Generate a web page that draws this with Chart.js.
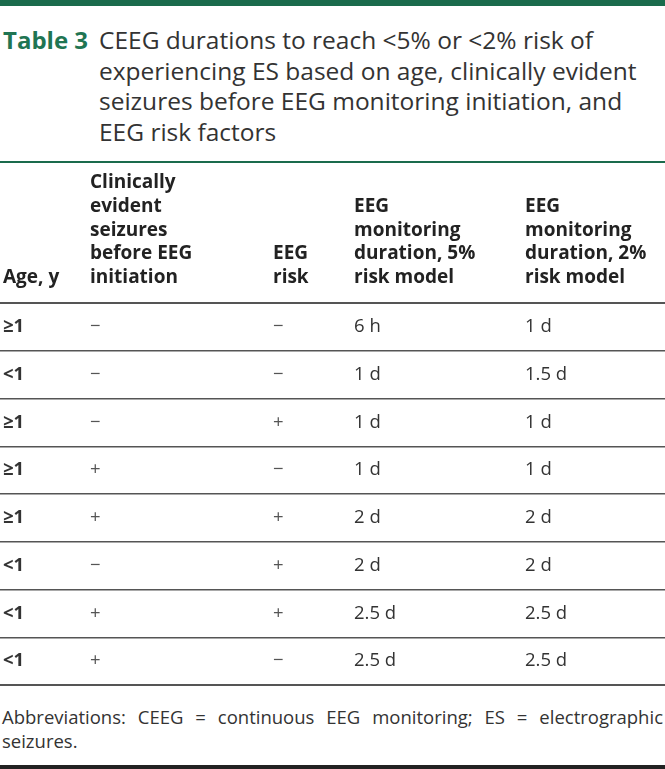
<!DOCTYPE html>
<html>
<head>
<meta charset="utf-8">
<script src="https://cdn.jsdelivr.net/npm/chart.js@4.4.1/dist/chart.umd.min.js"></script>
<style>
  html, body { margin: 0; padding: 0; background: #ffffff; }
  body { width: 665px; height: 769px; position: relative; overflow: hidden; font-family: "Open Sans", "Noto Sans", sans-serif; }
  #topbar { position: absolute; left: 0; top: 0; width: 665px; height: 6px; background: #1a6b4c; }
  #tno { position: absolute; left: 3px; top: 25px; font-size: 24px; line-height: 30.5px; font-weight: 700; color: #1f7553; white-space: nowrap; }
  #ttext { position: absolute; left: 99px; top: 25px; font-size: 24.5px; line-height: 30.5px; color: #333333; white-space: nowrap; }
  #tline { position: absolute; left: 0; top: 161px; width: 665px; height: 2px; background: #1a6b4c; }
  #wrap { position: absolute; left: 0; top: 163px; width: 665px; height: 524px; }
  #foot1 { position: absolute; left: 2px; top: 705px; width: 661px; font-size: 18.5px; line-height: 24px; color: #333333; text-align: justify; text-align-last: justify; white-space: nowrap; }
  #foot2 { position: absolute; left: 2px; top: 729px; width: 661px; font-size: 18.5px; line-height: 24px; color: #333333; }
  #botbar { position: absolute; left: 0; top: 765px; width: 665px; height: 4px; background: #222222; }
</style>
</head>
<body>
<div id="topbar"></div>
<div id="tno">Table 3</div>
<div id="ttext">CEEG durations to reach &lt;5% or &lt;2% risk of<br>experiencing ES based on age, clinically evident<br>seizures before EEG monitoring initiation, and<br>EEG risk factors</div>
<div id="tline"></div>
<div id="wrap"><canvas id="c"></canvas></div>
<div id="foot1">Abbreviations: CEEG = continuous EEG monitoring; ES = electrographic</div>
<div id="foot2">seizures.</div>
<div id="botbar"></div>
<script>
// ---- data ----
const headers = [
  ["Age, y"],
  ["Clinically", "evident", "seizures", "before EEG", "initiation"],
  ["EEG", "risk"],
  ["EEG", "monitoring", "duration, 5%", "risk model"],
  ["EEG", "monitoring", "duration, 2%", "risk model"]
];
const ageGroup     = ["≥1", "<1", "≥1", "≥1", "≥1", "<1", "<1", "<1"];
const clinSeizures = ["−", "−", "−", "+", "+", "−", "+", "+"];
const eegRisk      = ["−", "−", "+", "−", "+", "+", "+", "−"];
const duration5    = ["6 h", "1 d", "1 d", "1 d", "2 d", "2 d", "2.5 d", "2.5 d"];
const duration2    = ["1 d", "1.5 d", "1 d", "1 d", "2 d", "2 d", "2.5 d", "2.5 d"];

// ---- layout (column left edges on a 0..665 axis) ----
const colPos = [3, 90, 273, 354, 525];
const columns = [ageGroup, clinSeizures, eegRisk, duration5, duration2];
const rowIds = ageGroup.map((_, i) => "row" + (i + 1));

const datasets = columns.map((col, j) => ({
  label: headers[j].join(" "),
  cellText: col,
  bold: j === 0,
  data: col.map((_, i) => ({ x: colPos[j], y: i })),
  pointRadius: 0,
  pointHoverRadius: 0
}));

const cellTextPlugin = {
  id: "cellText",
  afterDatasetsDraw(chart) {
    const ctx = chart.ctx;
    ctx.save();
    ctx.textAlign = "left";
    ctx.textBaseline = "middle";
    chart.data.datasets.forEach((ds, j) => {
      const meta = chart.getDatasetMeta(j);
      ctx.font = (ds.bold ? "bold " : "") + "18.5px 'Open Sans'";
      meta.data.forEach((el, i) => {
        const t = ds.cellText[i];
        ctx.fillStyle = (t === "−" || t === "+") ? "#555555" : "#333333";
        ctx.fillText(t, el.x, el.y);
      });
    });
    ctx.restore();
  }
};

new Chart(document.getElementById("c"), {
  type: "scatter",
  data: { labels: rowIds, datasets },
  plugins: [cellTextPlugin],
  options: {
    responsive: true,
    maintainAspectRatio: false,
    animation: false,
    events: [],
    layout: { padding: { top: 0, left: 0, right: 0, bottom: 2 } },
    plugins: { legend: { display: false }, tooltip: { enabled: false }, title: { display: false } },
    scales: {
      x: {
        type: "linear",
        position: "top",
        min: 0,
        max: 665,
        afterBuildTicks(s) { s.ticks = colPos.map(v => ({ value: v })); },
        afterFit(s) { s.height = 140; s.paddingLeft = 0; s.paddingRight = 0; },
        grid: { display: false, drawTicks: false },
        border: { display: false },
        ticks: {
          align: "start",
          autoSkip: false,
          maxRotation: 0,
          minRotation: 0,
          padding: 14,
          color: "#222222",
          font: { family: "'Open Sans'", weight: "bold", size: 19, lineHeight: 1.24 },
          callback: (v, i) => headers[i]
        }
      },
      y: {
        type: "category",
        labels: rowIds,
        offset: true,
        grid: {
          offset: true,
          drawTicks: false,
          color: "#555555",
          lineWidth: (c) => (c.index === undefined || c.index === 0) ? 2 : 1.5
        },
        border: { display: false },
        ticks: { display: false }
      }
    }
  }
});
</script>
</body>
</html>
